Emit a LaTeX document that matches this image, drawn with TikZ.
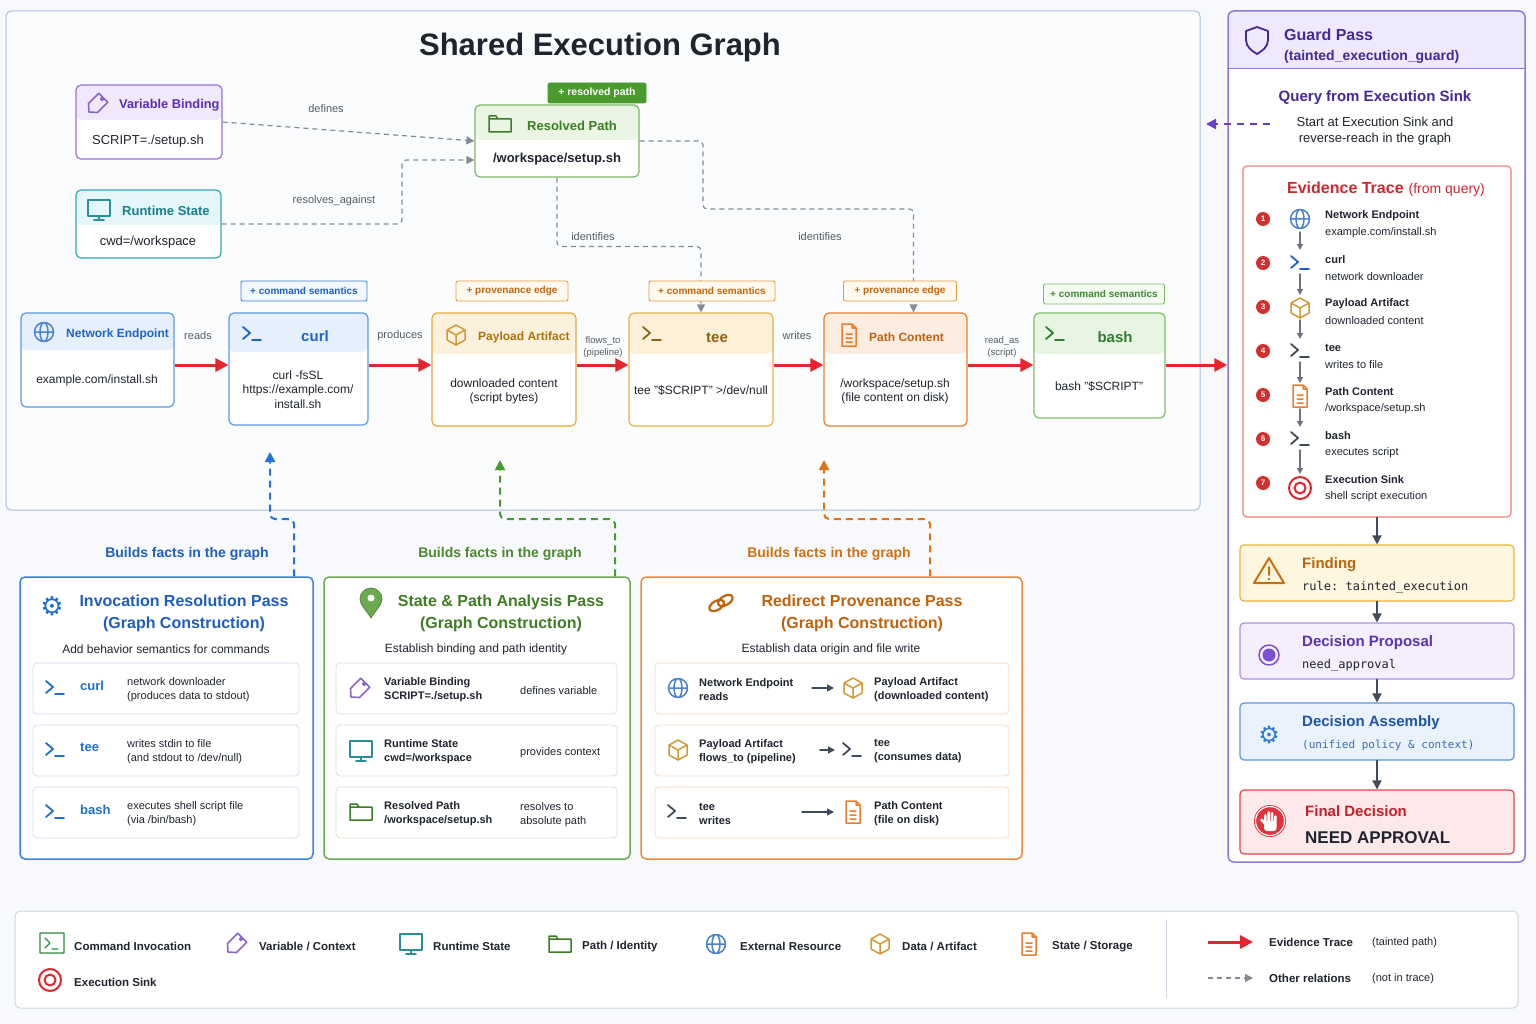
\documentclass[tikz,border=0pt]{standalone}
\usepackage{fontspec}
\setmainfont{Liberation Sans}
\setmonofont{DejaVu Sans Mono}
\newfontfamily\dejavusym{DejaVu Sans}
\usetikzlibrary{arrows.meta,fit}
\newcommand\fnt[2]{\fontsize{#1}{#2}\selectfont}
\definecolor{bgc}{HTML}{F7F9FC}
\definecolor{ink}{HTML}{1F2430}
\definecolor{framb}{HTML}{A9BFE6}
\definecolor{relgray}{HTML}{858B95}
\definecolor{tracered}{HTML}{E3262D}
\definecolor{slate}{HTML}{3F4A5A}
\definecolor{earrow}{HTML}{6B7380}
\definecolor{numred}{HTML}{D32F2F}
\definecolor{nblue}{HTML}{1E63C8}
\definecolor{nblueb}{HTML}{5A9BE6}
\definecolor{nbluebg}{HTML}{E6F0FC}
\definecolor{vpur}{HTML}{5B2DB8}
\definecolor{vpurb}{HTML}{9A6FE0}
\definecolor{vpurbg}{HTML}{F0E9FD}
\definecolor{rteal}{HTML}{17808F}
\definecolor{rtealb}{HTML}{33A6B8}
\definecolor{rtealbg}{HTML}{E4F6F9}
\definecolor{pgreen}{HTML}{3A7D23}
\definecolor{pgreenb}{HTML}{7EB866}
\definecolor{pgreenbg}{HTML}{EAF5E4}
\definecolor{badgegreen}{HTML}{4A9A2E}
\definecolor{agold}{HTML}{B0730C}
\definecolor{agoldb}{HTML}{E9AA3C}
\definecolor{agoldbg}{HTML}{FCF1DC}
\definecolor{teet}{HTML}{8B6414}
\definecolor{teeb}{HTML}{E9B24A}
\definecolor{teebg}{HTML}{FDF0D8}
\definecolor{pct}{HTML}{C2620D}
\definecolor{pcb}{HTML}{E97E2E}
\definecolor{pcbg}{HTML}{FDEDE1}
\definecolor{basht}{HTML}{2E7D32}
\definecolor{bashb}{HTML}{7CC064}
\definecolor{bashbg}{HTML}{E8F5E3}
\definecolor{bdgblue}{HTML}{3D7FD9}
\definecolor{bdgbluet}{HTML}{1E5FC0}
\definecolor{bdgbluebg}{HTML}{F3F8FE}
\definecolor{provb}{HTML}{E59A3C}
\definecolor{provt}{HTML}{C2650D}
\definecolor{provbg}{HTML}{FFF9F0}
\definecolor{bdggreen}{HTML}{7CC064}
\definecolor{bdggreent}{HTML}{3C8A2E}
\definecolor{bdggreenbg}{HTML}{F4FBF1}
\definecolor{invb}{HTML}{3B82E4}
\definecolor{invt}{HTML}{1F5EC0}
\definecolor{invi}{HTML}{1E6FD0}
\definecolor{invr}{HTML}{CFDDF3}
\definecolor{stb}{HTML}{6BAA4F}
\definecolor{stt}{HTML}{3E7E25}
\definecolor{strow}{HTML}{D7E6CF}
\definecolor{rdb}{HTML}{F08A3C}
\definecolor{rdt}{HTML}{C0620E}
\definecolor{rdrow}{HTML}{F6D9C3}
\definecolor{bldblue}{HTML}{2472D8}
\definecolor{bldgreen}{HTML}{4A9A30}
\definecolor{bldorange}{HTML}{E0720F}
\definecolor{bldbluet}{HTML}{1F5FC2}
\definecolor{bldgreent}{HTML}{4A8A2A}
\definecolor{bldoranget}{HTML}{D4700F}
\definecolor{gpb}{HTML}{8E78D8}
\definecolor{gpbg}{HTML}{EEE9FC}
\definecolor{gpt}{HTML}{45289A}
\definecolor{qarrc}{HTML}{6A3FC8}
\definecolor{evb}{HTML}{F27C7C}
\definecolor{evt}{HTML}{D02631}
\definecolor{fdfill}{HTML}{FFF6DF}
\definecolor{fdb}{HTML}{EAB33A}
\definecolor{fdt}{HTML}{B8650B}
\definecolor{fdi}{HTML}{C8700F}
\definecolor{dpfill}{HTML}{F5EEFD}
\definecolor{dpb}{HTML}{AE8FE4}
\definecolor{dpt}{HTML}{5A34AF}
\definecolor{dpi}{HTML}{7B4FCF}
\definecolor{dafill}{HTML}{E9F2FD}
\definecolor{dab}{HTML}{5C96E2}
\definecolor{dat}{HTML}{1F55A8}
\definecolor{dav}{HTML}{3D6DB8}
\definecolor{dai}{HTML}{2F7AD8}
\definecolor{finfill}{HTML}{FDE9EA}
\definecolor{finb}{HTML}{E64449}
\definecolor{fint}{HTML}{C61F2C}
\definecolor{finh}{HTML}{E3323A}
\definecolor{legb}{HTML}{CDD5E3}
\definecolor{cmdg}{HTML}{2E8B3A}
\begin{document}
\begin{tikzpicture}[x=1pt,y=-1pt,line join=round,line cap=round,
	txt/.style={inner sep=0pt,text=ink,yshift=-1.5pt},
	lbl/.style={inner sep=0pt,text=ink!75,yshift=-1pt,font=\fnt{11}{13}},
	card/.style={draw=#1,fill=white,rounded corners=5pt,line width=1.2pt,inner sep=0pt},
	hdr/.style 2 args={path picture={\fill[#1] (path picture bounding box.north west) rectangle ([yshift=-#2pt]path picture bounding box.north east);}},
	badge/.style 2 args={draw=#1,text=#2,rounded corners=2pt,line width=0.9pt,inner sep=0pt,minimum height=20pt,font=\bfseries\fnt{10}{12}},
	passbox/.style={draw=#1,fill=white,rounded corners=5pt,line width=1.5pt,inner sep=0pt},
	rowbox/.style={draw=#1,fill=white,rounded corners=4pt,line width=0.8pt,inner sep=0pt},
	dbox/.style 2 args={draw=#2,fill=#1,rounded corners=4pt,line width=1.2pt,inner sep=0pt},
	trace/.style={draw=tracered,line width=3pt,line cap=butt,-{Triangle[length=13pt,width=13pt]}},
	rel/.style={draw=relgray,line width=1.2pt,dash pattern=on 5pt off 4pt,rounded corners=4pt,line cap=butt,-{Triangle[length=8pt,width=8pt]}},
	build/.style={draw=#1,line width=2pt,dash pattern=on 7pt off 5pt,rounded corners=5pt,line cap=butt,-{Triangle[length=10pt,width=10pt]}},
	qarr/.style={draw=qarrc,line width=2pt,dash pattern=on 7pt off 6pt,line cap=butt,-{Triangle[length=10pt,width=10pt]}},
	darr/.style={draw=slate,line width=1.8pt,-{Triangle[length=9pt,width=9pt]}},
	sarr/.style={draw=slate,line width=1.5pt,-{Triangle[length=7pt,width=7pt]}},
	earr/.style={draw=earrow,line width=1.5pt,-{Triangle[length=6pt,width=6pt]}},
	numdot/.style={circle,fill=numred,text=white,inner sep=0pt,minimum size=14pt,font=\bfseries\fnt{8}{8}}]
	\def\icprompt(#1)#2{\draw[#2,line width=1.8pt,shift={(#1)}] (-9,-7)--(-2,-1)--(-9,5) (0,6)--(9,6);}
	\def\icglobe(#1)#2{\draw[#2,line width=1.5pt,shift={(#1)}] (0,0) circle[radius=9.5pt] (0,0) ellipse[x radius=4pt,y radius=9.5pt] (-9.5,0)--(9.5,0);}
	\def\iccube(#1)#2{\draw[#2,line width=1.5pt,shift={(#1)}] (0,-10)--(9,-5)--(9,5)--(0,10)--(-9,5)--(-9,-5)--cycle (-9,-5)--(0,0)--(9,-5) (0,0)--(0,10);}
	\def\icdoc(#1)#2{\draw[#2,line width=1.5pt,shift={(#1)}] (-7,-11)--(3,-11)--(7,-7)--(7,11)--(-7,11)--cycle (3,-11)--(3,-7)--(7,-7) (-3,-1)--(3,-1) (-3,3)--(3,3) (-3,7)--(3,7);}
	\def\icfolder(#1)#2{\draw[#2,line width=1.5pt,shift={(#1)}] (-11,-8)--(-4,-8)--(-2,-5)--(11,-5)--(11,8)--(-11,8)--cycle (-11,-5)--(-2,-5);}
	\def\icmonitor(#1)#2{\draw[#2,line width=1.6pt,shift={(#1)}] (-11,-10) rectangle (11,6) (0,6)--(0,10) (-5,10)--(5,10);}
	\def\ictag(#1)#2{\draw[#2,line width=1.6pt,shift={(#1)}] (-9,9)--(-9.5,0.5)--(0.8,-9.7)--(9.7,-0.8)--(-0.5,9.5)--cycle (4.2,-4.2) circle[radius=1.6pt];}
	\def\ictarget(#1)#2{\draw[#2,line width=2pt,shift={(#1)}] (0,0) circle[radius=11pt] (0,0) circle[radius=5.5pt];}
	\def\iccmd(#1)#2{\draw[#2,line width=1.4pt,shift={(#1)}] (-12,-10) rectangle (12,10) (-7,-5)--(-2,0)--(-7,5) (0,6)--(6,6);}
	\def\icshield(#1)#2{\draw[#2,line width=1.8pt,shift={(#1)}] (0,-13)--(11,-9)--(11,0) .. controls (11,7) and (5,11) .. (0,14) .. controls (-5,11) and (-11,7) .. (-11,0)--(-11,-9)--cycle;}
	\def\icpin(#1)#2{\fill[#2,draw=#2!80!black,line width=0.8pt,shift={(#1)}] (0,15) .. controls (-4,8) and (-11,2) .. (-11,-4) .. controls (-11,-10) and (-6,-15) .. (0,-15) .. controls (6,-15) and (11,-10) .. (11,-4) .. controls (11,2) and (4,8) .. (0,15) -- cycle; \fill[white,shift={(#1)}] (0,-5) circle[radius=3.5pt];}
	\def\iclink(#1)#2{\begin{scope}[shift={(#1)},rotate=30]\draw[#2,line width=2.2pt] (-5,0) ellipse[x radius=8pt,y radius=4.5pt] (5,0) ellipse[x radius=8pt,y radius=4.5pt];\end{scope}}
	\def\icwarn(#1)#2{\draw[#2,line width=2pt,shift={(#1)}] (0,-13)--(15,12)--(-15,12)--cycle (0,-4)--(0,4); \fill[#2,shift={(#1)}] (0,8) circle[radius=1.4pt];}
	\def\icprop(#1)#2{\draw[#2,line width=1.5pt,shift={(#1)}] (0,0) circle[radius=10pt]; \fill[#2,shift={(#1)}] (0,0) circle[radius=6.5pt];}
	\def\ichand(#1)#2{\begin{scope}[shift={(#1)}]\fill[#2] (0,0) circle[radius=16pt]; \draw[white,line width=1.2pt] (0,0) circle[radius=14.5pt];
		\fill[white,rounded corners=1.3pt] (-6,-7) rectangle (-3.4,2) (-2.6,-10) rectangle (0,2) (0.8,-9) rectangle (3.4,2) (4.2,-6) rectangle (6.6,3);
		\fill[white,rounded corners=3pt] (-6,0) rectangle (6.6,10);
		\fill[white] (-5.5,4)--(-10,-1)--(-8.2,-2.6)--(-4.5,0.5)--cycle;\end{scope}}
	\fill[bgc] (0,0) rectangle (1536,1024);
	\useasboundingbox (0,0) rectangle (1536,1024);
	\node[draw=framb,fill=white!55!bgc,rounded corners=5pt,line width=1pt,inner sep=0pt,fit={(6,11)(1200,510)}] (seg) {};
	\node[txt,font=\bfseries\fnt{31}{35}] (seg-t) at (600,46) {Shared Execution Graph};
	\node[card=vpurb,hdr={vpurbg}{35},fit={(76,85)(222,159)}] (vb) {};
	\ictag(98,103){vpurb!90!black}
	\node[txt,anchor=west,text=vpur,font=\bfseries\fnt{12.8}{15}] (vb-t) at (119,104) {Variable Binding};
	\node[txt,font=\fnt{13}{15}] (vb-v) at (148,140) {SCRIPT=./setup.sh};
	\node[card=rtealb,hdr={rtealbg}{35},fit={(76,190)(221,258)}] (rs) {};
	\icmonitor(99,210){rtealb!85!black}
	\node[txt,anchor=west,text=rteal,font=\bfseries\fnt{13}{15}] (rs-t) at (122,209) {Runtime State};
	\node[txt,font=\fnt{13}{15}] (rs-v) at (148,241) {cwd=/workspace};
	\node[card=pgreenb,hdr={pgreenbg}{35},fit={(475,105)(639,177)}] (rp) {};
	\icfolder(500,124){pgreen}
	\node[txt,anchor=west,text=pgreen,font=\bfseries\fnt{13}{15}] (rp-t) at (527,124) {Resolved Path};
	\node[txt,font=\bfseries\fnt{13}{15}] (rp-v) at (557,158) {/workspace/setup.sh};
	\node[card=nblueb,hdr={nbluebg}{37},fit={(21,313)(174,407)}] (ne) {};
	\icglobe(44,332){nblue!80}
	\node[txt,anchor=west,text=nblue,font=\bfseries\fnt{12}{14}] (ne-t) at (66,333) {Network Endpoint};
	\node[txt,font=\fnt{12}{14}] (ne-v) at (97,379) {example.com/install.sh};
	\node[card=nblueb,hdr={nbluebg}{39},fit={(229,313)(368,425)}] (curl) {};
	\icprompt(252,334){nblue}
	\node[txt,text=nblue,font=\bfseries\fnt{15}{17}] (curl-t) at (315,335) {curl};
	\node[txt,align=center,font=\fnt{12}{14.5}] (curl-v) at (298,388) {curl -fsSL\\https://example.com/\\install.sh};
	\node[card=agoldb,hdr={agoldbg}{41},fit={(432,313)(576,426)}] (pa) {};
	\iccube(456,335){agoldb!90!black}
	\node[txt,anchor=west,text=agold,font=\bfseries\fnt{12}{14}] (pa-t) at (478,336) {Payload Artifact};
	\node[txt,align=center,font=\fnt{12}{14.5}] (pa-v) at (504,390) {downloaded content\\(script bytes)};
	\node[card=teeb,hdr={teebg}{41},fit={(629,313)(773,426)}] (tee) {};
	\icprompt(652,334){teet}
	\node[txt,text=teet,font=\bfseries\fnt{15}{17}] (tee-t) at (717,336) {tee};
	\node[txt,font=\fnt{12}{14}] (tee-v) at (701,389) {tee "\$SCRIPT" >/dev/null};
	\node[card=pcb,hdr={pcbg}{41},fit={(824,313)(967,426)}] (pc) {};
	\icdoc(849,335){pcb}
	\node[txt,anchor=west,text=pct,font=\bfseries\fnt{12}{14}] (pc-t) at (869,336) {Path Content};
	\node[txt,align=center,font=\fnt{12}{14.5}] (pc-v) at (895,390) {/workspace/setup.sh\\(file content on disk)};
	\node[card=bashb,hdr={bashbg}{41},fit={(1034,313)(1165,418)}] (bash) {};
	\icprompt(1055,334){basht}
	\node[txt,text=basht,font=\bfseries\fnt{15}{17}] (bash-t) at (1115,336) {bash};
	\node[txt,font=\fnt{12}{14}] (bash-v) at (1099,385) {bash "\$SCRIPT"};
	\draw[rel] (vb.east) -- (rp.west);
	\draw[rel] (rs.east) -| (402,160) -- ([yshift=-19pt]rp.west);
	\draw[rel] (rp.south) -- ++(0,69) -| (tee.north);
	\draw[rel] (rp.east) -| (703,209) -| ([xshift=18pt]pc.north);
	\node[lbl] (l-def) at (326,108) {defines};
	\node[lbl] (l-res) at (334,200) {resolves\_against};
	\node[lbl] (l-id1) at (593,236) {identifies};
	\node[lbl] (l-id2) at (820,236) {identifies};
	\node[badge={badgegreen}{white},fill=badgegreen,minimum width=98pt,font=\bfseries\fnt{10.5}{12}] (rp-b) at (597,93) {+ resolved path};
	\node[badge={bdgblue}{bdgbluet},fill=bdgbluebg,minimum width=126pt] (curl-b) at (304,291) {+ command semantics};
	\node[badge={provb}{provt},fill=provbg,minimum width=112pt] (pa-b) at (512,291) {+ provenance edge};
	\node[badge={provb}{provt},fill=provbg,minimum width=126pt] (tee-b) at (712,291) {+ command semantics};
	\node[badge={provb}{provt},fill=provbg,minimum width=113pt] (pc-b) at (900,291) {+ provenance edge};
	\node[badge={bdggreen}{bdggreent},fill=bdggreenbg,minimum width=121pt] (bash-b) at (1104,294) {+ command semantics};
	\node[card=gpb,hdr={gpbg}{58},line width=1.5pt,rounded corners=6pt,fit={(1228,11)(1525,862)}] (gp) {};
	\draw[gpb,line width=1pt] (gp.west |- 0,69) -- (gp.east |- 0,69);
	\coordinate (tr) at (0,365);
	\draw[trace] (ne.east |- tr) -- (curl.west |- tr);
	\draw[trace] (curl.east |- tr) -- (pa.west |- tr);
	\draw[trace] (pa.east |- tr) -- (tee.west |- tr);
	\draw[trace] (tee.east |- tr) -- (pc.west |- tr);
	\draw[trace] (pc.east |- tr) -- (bash.west |- tr);
	\draw[trace] (bash.east |- tr) -- (gp.west |- tr);
	\node[lbl] (l-reads) at (198,335) {reads};
	\node[lbl] (l-prod) at (400,335) {produces};
	\node[lbl,align=center,font=\fnt{9.5}{12}] (l-flow) at (603,346) {flows\_to\\(pipeline)};
	\node[lbl] (l-writes) at (797,335) {writes};
	\node[lbl,align=center,font=\fnt{9.5}{12}] (l-readas) at (1002,346) {read\_as\\(script)};
	\icshield(1257,40){gpt}
	\node[txt,anchor=west,text=gpt,font=\bfseries\fnt{16}{18}] (gp-t) at (1284,33) {Guard Pass};
	\node[txt,anchor=west,text=gpt,font=\bfseries\fnt{14}{16}] (gp-s) at (1284,55) {(tainted\_execution\_guard)};
	\node[txt,text=gpt,font=\bfseries\fnt{15}{17}] (q-t) at (1375,96) {Query from Execution Sink};
	\node[txt,align=center,font=\fnt{13}{16}] (q-v) at (1375,130) {Start at Execution Sink and\\reverse-reach in the graph};
	\coordinate (q-from) at (1270,124);
	\coordinate (q-to) at (1206,124);
	\draw[qarr] (q-from) -- (q-to);
	\node[draw=evb,fill=white,rounded corners=4pt,line width=1.2pt,inner sep=0pt,fit={(1243,166)(1511,517)}] (ev) {};
	\node[txt,text=evt] (ev-t) at (1386,188) {\bfseries\fnt{16}{18}Evidence Trace\hspace{5pt}\mdseries\fnt{14}{16}(from query)};
	\node[numdot] (n1) at (1263,219) {1};
	\node[numdot] (n2) at (1263,263) {2};
	\node[numdot] (n3) at (1263,307) {3};
	\node[numdot] (n4) at (1263,351) {4};
	\node[numdot] (n5) at (1263,395) {5};
	\node[numdot] (n6) at (1263,439) {6};
	\node[numdot] (n7) at (1263,483) {7};
	\coordinate (e1) at (1300,219);
	\coordinate (e2) at (1300,263);
	\coordinate (e3) at (1300,308);
	\coordinate (e4) at (1300,351);
	\coordinate (e5) at (1300,396);
	\coordinate (e6) at (1300,439);
	\coordinate (e7) at (1300,488);
	\icglobe(e1){nblue!80}
	\icprompt(e2){nblue}
	\iccube(e3){agoldb!90!black}
	\icprompt(e4){slate}
	\icdoc(e5){pcb}
	\icprompt(e6){slate}
	\ictarget(e7){tracered}
	\draw[earr] ([yshift=-13pt]e1) -- ([yshift=13pt]e2);
	\draw[earr] ([yshift=-11pt]e2) -- ([yshift=13pt]e3);
	\draw[earr] ([yshift=-12pt]e3) -- ([yshift=12pt]e4);
	\draw[earr] ([yshift=-11pt]e4) -- ([yshift=13pt]e5);
	\draw[earr] ([yshift=-13pt]e5) -- ([yshift=12pt]e6);
	\draw[earr] ([yshift=-11pt]e6) -- ([yshift=14pt]e7);
	\node[txt,anchor=west,font=\bfseries\fnt{11}{13}] (e1-t) at (1325,214) {Network Endpoint};
	\node[txt,anchor=west,font=\fnt{11}{13}] (e1-v) at (1325,231) {example.com/install.sh};
	\node[txt,anchor=west,font=\bfseries\fnt{11}{13}] (e2-t) at (1325,258) {curl};
	\node[txt,anchor=west,font=\fnt{11}{13}] (e2-v) at (1325,275) {network downloader};
	\node[txt,anchor=west,font=\bfseries\fnt{11}{13}] (e3-t) at (1325,302) {Payload Artifact};
	\node[txt,anchor=west,font=\fnt{11}{13}] (e3-v) at (1325,319) {downloaded content};
	\node[txt,anchor=west,font=\bfseries\fnt{11}{13}] (e4-t) at (1325,346) {tee};
	\node[txt,anchor=west,font=\fnt{11}{13}] (e4-v) at (1325,363) {writes to file};
	\node[txt,anchor=west,font=\bfseries\fnt{11}{13}] (e5-t) at (1325,390) {Path Content};
	\node[txt,anchor=west,font=\fnt{11}{13}] (e5-v) at (1325,407) {/workspace/setup.sh};
	\node[txt,anchor=west,font=\bfseries\fnt{11}{13}] (e6-t) at (1325,434) {bash};
	\node[txt,anchor=west,font=\fnt{11}{13}] (e6-v) at (1325,451) {executes script};
	\node[txt,anchor=west,font=\bfseries\fnt{11}{13}] (e7-t) at (1325,478) {Execution Sink};
	\node[txt,anchor=west,font=\fnt{11}{13}] (e7-v) at (1325,495) {shell script execution};
	\node[dbox={fdfill}{fdb},fit={(1240,545)(1514,601)}] (fd) {};
	\icwarn(1269,571){fdi}
	\node[txt,anchor=west,text=fdt,font=\bfseries\fnt{15}{17}] (fd-t) at (1302,563) {Finding};
	\node[txt,anchor=west,font=\ttfamily\fnt{12}{14}] (fd-v) at (1302,586) {rule: tainted\_execution};
	\node[dbox={dpfill}{dpb},fit={(1240,623)(1514,679)}] (dp) {};
	\icprop(1269,655){dpi}
	\node[txt,anchor=west,text=dpt,font=\bfseries\fnt{15}{17}] (dp-t) at (1302,641) {Decision Proposal};
	\node[txt,anchor=west,font=\ttfamily\fnt{12}{14}] (dp-v) at (1302,664) {need\_approval};
	\node[dbox={dafill}{dab},fit={(1240,703)(1514,760)}] (da) {};
	\node[txt,text=dai,font=\dejavusym\fnt{24}{24}] (da-ic) at (1269,733) {⚙};
	\node[txt,anchor=west,text=dat,font=\bfseries\fnt{15}{17}] (da-t) at (1302,721) {Decision Assembly};
	\node[txt,anchor=west,text=dav,font=\ttfamily\fnt{11}{13}] (da-v) at (1302,744) {(unified policy \& context)};
	\node[dbox={finfill}{finb},fit={(1240,790)(1514,854)}] (fin) {};
	\ichand(1270,821){finh}
	\node[txt,anchor=west,text=fint,font=\bfseries\fnt{15}{17}] (fin-t) at (1305,810) {Final Decision};
	\node[txt,anchor=west,font=\bfseries\fnt{17}{19}] (fin-v) at (1305,836) {NEED APPROVAL};
	\draw[darr] (ev.south) -- (fd.north);
	\draw[darr] (fd.south) -- (dp.north);
	\draw[darr] (dp.south) -- (da.north);
	\draw[darr] (da.south) -- (fin.north);
	\node[passbox=invb,fit={(20,577)(313,859)}] (inv) {};
	\node[txt,text=invi,font=\dejavusym\fnt{26}{26}] (inv-ic) at (52,605) {⚙};
	\node[txt,align=center,text=invt,font=\bfseries\fnt{16}{22}] (inv-t) at (184,612) {Invocation Resolution Pass\\(Graph Construction)};
	\node[txt,font=\fnt{12}{14}] (inv-s) at (166,648) {Add behavior semantics for commands};
	\node[rowbox=invr,fit={(33,663)(299,714)}] (inv-r1) {};
	\node[rowbox=invr,fit={(33,725)(299,776)}] (inv-r2) {};
	\node[rowbox=invr,fit={(33,787)(299,838)}] (inv-r3) {};
	\icprompt(55,688){invi}
	\icprompt(55,750){invi}
	\icprompt(55,812){invi}
	\node[txt,anchor=west,text=invi,font=\bfseries\fnt{13}{15}] (inv-n1) at (80,684) {curl};
	\node[txt,anchor=west,text=invi,font=\bfseries\fnt{13}{15}] (inv-n2) at (80,746) {tee};
	\node[txt,anchor=west,text=invi,font=\bfseries\fnt{13}{15}] (inv-n3) at (80,808) {bash};
	\node[txt,anchor=west,align=left,font=\fnt{11}{14}] (inv-d1) at (127,688) {network downloader\\(produces data to stdout)};
	\node[txt,anchor=west,align=left,font=\fnt{11}{14}] (inv-d2) at (127,750) {writes stdin to file\\(and stdout to /dev/null)};
	\node[txt,anchor=west,align=left,font=\fnt{11}{14}] (inv-d3) at (127,812) {executes shell script file\\(via /bin/bash)};
	\node[passbox=stb,fit={(324,577)(630,859)}] (st) {};
	\icpin(371,603){stb}
	\node[txt,align=center,text=stt,font=\bfseries\fnt{16}{22}] (st-t) at (501,612) {State \& Path Analysis Pass\\(Graph Construction)};
	\node[txt,font=\fnt{12}{14}] (st-s) at (476,648) {Establish binding and path identity};
	\node[rowbox=strow,fit={(336,663)(617,714)}] (st-r1) {};
	\node[rowbox=strow,fit={(336,725)(617,776)}] (st-r2) {};
	\node[rowbox=strow,fit={(336,787)(617,838)}] (st-r3) {};
	\ictag(360,688){vpurb!90!black}
	\icmonitor(361,751){rtealb!85!black}
	\icfolder(361,812){pgreen}
	\node[txt,anchor=west,align=left,font=\bfseries\fnt{11}{14}] (st-n1) at (384,688) {Variable Binding\\SCRIPT=./setup.sh};
	\node[txt,anchor=west,align=left,font=\bfseries\fnt{11}{14}] (st-n2) at (384,750) {Runtime State\\cwd=/workspace};
	\node[txt,anchor=west,align=left,font=\bfseries\fnt{11}{14}] (st-n3) at (384,812) {Resolved Path\\/workspace/setup.sh};
	\node[txt,anchor=west,font=\fnt{11}{14}] (st-d1) at (520,689) {defines variable};
	\node[txt,anchor=west,font=\fnt{11}{14}] (st-d2) at (520,751) {provides context};
	\node[txt,anchor=west,align=left,font=\fnt{11}{14}] (st-d3) at (520,813) {resolves to\\absolute path};
	\node[passbox=rdb,fit={(641,577)(1022,859)}] (rd) {};
	\iclink(721,603){rdt}
	\node[txt,align=center,text=rdt,font=\bfseries\fnt{16}{22}] (rd-t) at (862,612) {Redirect Provenance Pass\\(Graph Construction)};
	\node[txt,font=\fnt{12}{14}] (rd-s) at (831,648) {Establish data origin and file write};
	\node[rowbox=rdrow,fit={(655,663)(1009,714)}] (rd-r1) {};
	\node[rowbox=rdrow,fit={(655,725)(1009,776)}] (rd-r2) {};
	\node[rowbox=rdrow,fit={(655,787)(1009,838)}] (rd-r3) {};
	\coordinate (rd-c1) at (853,688);
	\coordinate (rd-c2) at (852,750);
	\coordinate (rd-c3) at (853,812);
	\icglobe(678,688){nblue!80}
	\iccube(rd-c1){agoldb!90!black}
	\iccube(678,750){agoldb!90!black}
	\icprompt(rd-c2){slate}
	\icprompt(677,812){slate}
	\icdoc(rd-c3){pcb}
	\draw[sarr] ([xshift=-41pt]rd-c1) -- ([xshift=-19pt]rd-c1);
	\draw[sarr] ([xshift=-32pt]rd-c2) -- ([xshift=-17pt]rd-c2);
	\draw[sarr] ([xshift=-51pt]rd-c3) -- ([xshift=-19pt]rd-c3);
	\node[txt,anchor=west,align=left,font=\bfseries\fnt{11}{14}] (rd-a1) at (699,688) {Network Endpoint\\reads};
	\node[txt,anchor=west,align=left,font=\bfseries\fnt{11}{14}] (rd-b1) at (874,688) {Payload Artifact\\(downloaded content)};
	\node[txt,anchor=west,align=left,font=\bfseries\fnt{11}{14}] (rd-a2) at (699,750) {Payload Artifact\\flows\_to (pipeline)};
	\node[txt,anchor=west,align=left,font=\bfseries\fnt{11}{14}] (rd-b2) at (874,750) {tee\\(consumes data)};
	\node[txt,anchor=west,align=left,font=\bfseries\fnt{11}{14}] (rd-a3) at (699,812) {tee\\writes};
	\node[txt,anchor=west,align=left,font=\bfseries\fnt{11}{14}] (rd-b3) at (874,812) {Path Content\\(file on disk)};
	\coordinate (bf1) at (270,452);
	\coordinate (bf2) at (500,460);
	\coordinate (bf3) at (824,460);
	\draw[build=bldblue] (inv.north -| 294,0) -- (294,519) -| (bf1);
	\draw[build=bldgreen] (st.north -| 615,0) -- (615,519) -| (bf2);
	\draw[build=bldorange] (rd.north -| 930,0) -- (930,519) -| (bf3);
	\node[txt,text=bldbluet,font=\bfseries\fnt{14}{16}] (bf1-l) at (187,552) {Builds facts in the graph};
	\node[txt,text=bldgreent,font=\bfseries\fnt{14}{16}] (bf2-l) at (500,552) {Builds facts in the graph};
	\node[txt,text=bldoranget,font=\bfseries\fnt{14}{16}] (bf3-l) at (829,552) {Builds facts in the graph};
	\node[draw=legb,fill=white,rounded corners=5pt,line width=1pt,inner sep=0pt,fit={(15,911)(1518,1008)}] (lg) {};
	\iccmd(52,943){cmdg}
	\ictag(237,943){vpurb!90!black}
	\icmonitor(411,944){rtealb!85!black}
	\icfolder(560,944){pgreen}
	\icglobe(716,944){nblue!80}
	\iccube(880,944){agoldb!90!black}
	\icdoc(1029,944){pcb}
	\ictarget(50,980){tracered}
	\node[txt,anchor=west,font=\bfseries\fnt{11.5}{13}] (lg-1) at (74,945) {Command Invocation};
	\node[txt,anchor=west,font=\bfseries\fnt{11.5}{13}] (lg-2) at (259,945) {Variable / Context};
	\node[txt,anchor=west,font=\bfseries\fnt{11.5}{13}] (lg-3) at (433,945) {Runtime State};
	\node[txt,anchor=west,font=\bfseries\fnt{11.5}{13}] (lg-4) at (582,945) {Path / Identity};
	\node[txt,anchor=west,font=\bfseries\fnt{11.5}{13}] (lg-5) at (740,945) {External Resource};
	\node[txt,anchor=west,font=\bfseries\fnt{11.5}{13}] (lg-6) at (902,945) {Data / Artifact};
	\node[txt,anchor=west,font=\bfseries\fnt{11.5}{13}] (lg-7) at (1052,945) {State / Storage};
	\node[txt,anchor=west,font=\bfseries\fnt{11.5}{13}] (lg-8) at (74,981) {Execution Sink};
	\draw[legb,line width=1pt] (1166,920) -- (1166,998);
	\coordinate (lg-a1) at (1208,942);
	\coordinate (lg-a2) at (1253,942);
	\coordinate (lg-b1) at (1208,978);
	\coordinate (lg-b2) at (1253,978);
	\draw[trace] (lg-a1) -- (lg-a2);
	\draw[rel] (lg-b1) -- (lg-b2);
	\node[txt,anchor=west,font=\bfseries\fnt{11.5}{13}] (lg-9) at (1269,941) {Evidence Trace};
	\node[txt,anchor=west,font=\fnt{11}{13}] (lg-9s) at (1372,941) {(tainted path)};
	\node[txt,anchor=west,font=\bfseries\fnt{11.5}{13}] (lg-10) at (1269,977) {Other relations};
	\node[txt,anchor=west,font=\fnt{11}{13}] (lg-10s) at (1372,977) {(not in trace)};
\end{tikzpicture}
\end{document}
